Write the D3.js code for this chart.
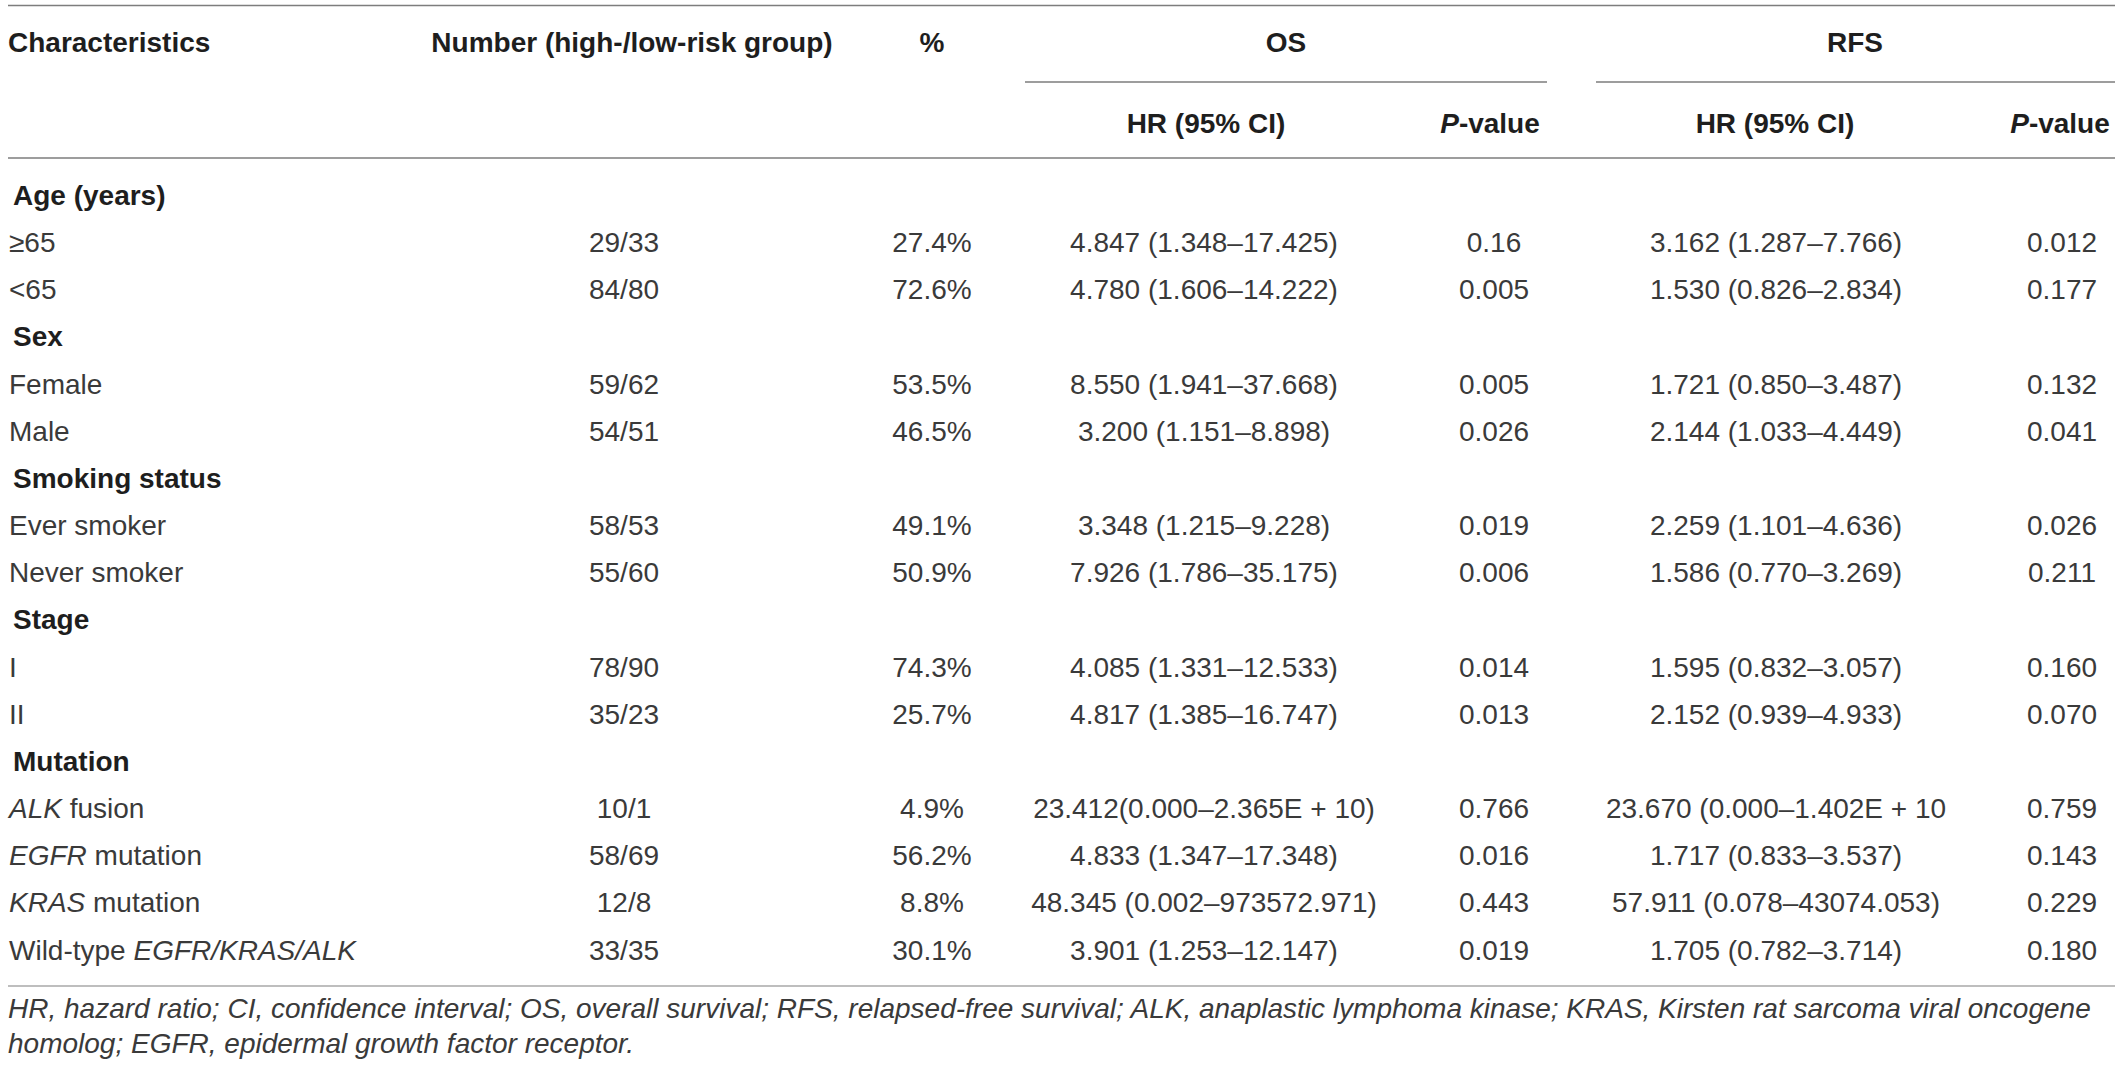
<!DOCTYPE html>
<html>
<head>
<meta charset="utf-8">
<script src="https://cdn.jsdelivr.net/npm/d3@7"></script>
<style>
  html, body { margin: 0; padding: 0; background: #fff; }
  svg { display: block; }
  text { font-family: "Liberation Sans", Arial, Helvetica, sans-serif; }
</style>
</head>
<body>
<svg id="chart" width="2120" height="1073"></svg>
<script>
// ---- data ----
const rowLabels = ["Age (years)", "≥65", "<65", "Sex", "Female", "Male", "Smoking status",
  "Ever smoker", "Never smoker", "Stage", "I", "II", "Mutation",
  "*ALK* fusion", "*EGFR* mutation", "*KRAS* mutation", "Wild-type *EGFR/KRAS/ALK*"];
const groupRows = ["Age (years)", "Sex", "Smoking status", "Stage", "Mutation"];
const numbers = ["", "29/33", "84/80", "", "59/62", "54/51", "", "58/53", "55/60", "",
  "78/90", "35/23", "", "10/1", "58/69", "12/8", "33/35"];
const percents = ["", "27.4%", "72.6%", "", "53.5%", "46.5%", "", "49.1%", "50.9%", "",
  "74.3%", "25.7%", "", "4.9%", "56.2%", "8.8%", "30.1%"];
const osHR = ["", "4.847 (1.348–17.425)", "4.780 (1.606–14.222)", "", "8.550 (1.941–37.668)",
  "3.200 (1.151–8.898)", "", "3.348 (1.215–9.228)", "7.926 (1.786–35.175)", "",
  "4.085 (1.331–12.533)", "4.817 (1.385–16.747)", "", "23.412(0.000–2.365E + 10)",
  "4.833 (1.347–17.348)", "48.345 (0.002–973572.971)", "3.901 (1.253–12.147)"];
const osP = ["", "0.16", "0.005", "", "0.005", "0.026", "", "0.019", "0.006", "",
  "0.014", "0.013", "", "0.766", "0.016", "0.443", "0.019"];
const rfsHR = ["", "3.162 (1.287–7.766)", "1.530 (0.826–2.834)", "", "1.721 (0.850–3.487)",
  "2.144 (1.033–4.449)", "", "2.259 (1.101–4.636)", "1.586 (0.770–3.269)", "",
  "1.595 (0.832–3.057)", "2.152 (0.939–4.933)", "", "23.670 (0.000–1.402E + 10",
  "1.717 (0.833–3.537)", "57.911 (0.078–43074.053)", "1.705 (0.782–3.714)"];
const rfsP = ["", "0.012", "0.177", "", "0.132", "0.041", "", "0.026", "0.211", "",
  "0.160", "0.070", "", "0.759", "0.143", "0.229", "0.180"];

const headerTop = ["Characteristics", "Number (high-/low-risk group)", "%", "OS", "RFS"];
const headerSub = ["HR (95% CI)", "*P*-value", "HR (95% CI)", "*P*-value"];
const footnoteLines = [
  "HR, hazard ratio; CI, confidence interval; OS, overall survival; RFS, relapsed-free survival; ALK, anaplastic lymphoma kinase; KRAS, Kirsten rat sarcoma viral oncogene",
  "homolog; EGFR, epidermal growth factor receptor."
];

// ---- scales ----
const W = 2120;
const svg = d3.select("#chart");
svg.append("rect").attr("width", W).attr("height", 1073).attr("fill", "#fff");

const colKeys = ["number", "pct", "osHR", "osP", "rfsHR", "rfsP"];
const colX = d3.scaleOrdinal().domain(colKeys).range([624, 932, 1204, 1494, 1776, 2062]);
const headTopX = d3.scaleOrdinal().domain(headerTop).range([8, 632, 932, 1286, 1855]);
const subXs = d3.scaleOrdinal().domain([0, 1, 2, 3]).range([1206, 1490, 1775, 2060]);
const rowY = d3.scaleLinear().domain([0, rowLabels.length - 1]).range([205, 959.5]);

const columns = { number: numbers, pct: percents, osHR: osHR, osP: osP, rfsHR: rfsHR, rfsP: rfsP };

// helper: render "*italic*" markup into tspans
function addRich(sel, str) {
  const parts = str.split("*");
  parts.forEach((p, i) => {
    if (!p) return;
    sel.append("tspan").attr("font-style", i % 2 === 1 ? "italic" : null).text(p);
  });
}

// ---- rules ----
const lineColor = "#7d7d7d";
svg.append("line").attr("x1", 8).attr("x2", 2115).attr("y1", 5.5).attr("y2", 5.5)
  .attr("stroke", lineColor).attr("stroke-width", 1.6);
svg.append("line").attr("x1", 1025).attr("x2", 1547).attr("y1", 82).attr("y2", 82)
  .attr("stroke", lineColor).attr("stroke-width", 1.6);
svg.append("line").attr("x1", 1596).attr("x2", 2115).attr("y1", 82).attr("y2", 82)
  .attr("stroke", lineColor).attr("stroke-width", 1.6);
svg.append("line").attr("x1", 8).attr("x2", 2115).attr("y1", 158).attr("y2", 158)
  .attr("stroke", lineColor).attr("stroke-width", 1.6);
svg.append("line").attr("x1", 8).attr("x2", 2115).attr("y1", 986).attr("y2", 986)
  .attr("stroke", "#a8a8a8").attr("stroke-width", 1.6);

// ---- header ----
const headColor = "#1e1e1e";
svg.selectAll("text.htop").data(headerTop).enter().append("text")
  .attr("class", "htop")
  .attr("x", d => headTopX(d)).attr("y", 52)
  .attr("text-anchor", (d, i) => i === 0 ? "start" : "middle")
  .attr("font-size", 28).attr("font-weight", "bold").attr("fill", headColor)
  .text(d => d);

svg.selectAll("text.hsub").data(headerSub).enter().append("text")
  .attr("class", "hsub")
  .attr("x", (d, i) => subXs(i)).attr("y", 133)
  .attr("text-anchor", "middle")
  .attr("font-size", 28).attr("font-weight", "bold").attr("fill", headColor)
  .each(function(d) { addRich(d3.select(this), d); });

// ---- body ----
const bodyColor = "#3a3a3a";
svg.selectAll("text.rlabel").data(rowLabels).enter().append("text")
  .attr("class", "rlabel")
  .attr("x", d => groupRows.includes(d) ? 13 : 9)
  .attr("y", (d, i) => rowY(i))
  .attr("font-size", 28)
  .attr("font-weight", d => groupRows.includes(d) ? "bold" : "normal")
  .attr("fill", d => groupRows.includes(d) ? headColor : bodyColor)
  .each(function(d) { addRich(d3.select(this), d); });

colKeys.forEach(k => {
  svg.selectAll("text.c-" + k).data(columns[k]).enter().append("text")
    .attr("class", "c-" + k)
    .attr("x", colX(k))
    .attr("y", (d, i) => rowY(i))
    .attr("text-anchor", "middle")
    .attr("font-size", 28).attr("fill", bodyColor)
    .text(d => d);
});

// ---- footnote ----
const fn = svg.selectAll("text.fn").data(footnoteLines).enter().append("text")
  .attr("class", "fn")
  .attr("x", 8).attr("y", (d, i) => [1018, 1053][i])
  .attr("font-size", 26).attr("font-style", "italic").attr("fill", bodyColor)
  .text(d => d);
// fit the first footnote line to the table width
const first = fn.filter((d, i) => i === 0).node();
const len = first.getComputedTextLength();
const target = 2112 - 8;
const fs = Math.min(28, 26 * target / len);
fn.attr("font-size", fs);
</script>
</body>
</html>
